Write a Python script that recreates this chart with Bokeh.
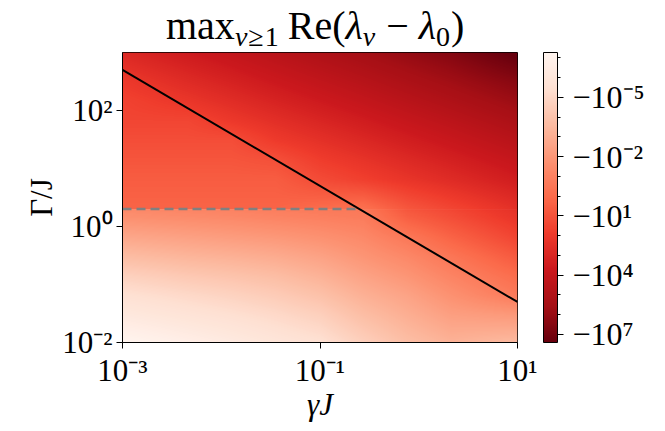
import numpy as np
from bokeh.plotting import figure
from bokeh.models import (LinearColorMapper, ColorBar, FixedTicker, AllLabels,
                          CustomJSTickFormatter, Range1d, Div)
from bokeh.layouts import column
from bokeh.embed import file_html
from bokeh.resources import INLINE

# ---------------- data ----------------
gamma_lim = [1e-3, 1e1]          # x: gamma J
Gamma_lim = [1e-2, 1e3]          # y: Gamma / J
Gamma_split = 2.0                # dashed line level

# log10 |max Re(lambda_nu - lambda_0)|, upper block (Gamma 2 .. 1e3)
# rows: top -> bottom, columns: gamma 1e-3 -> 1e1 (log-uniform cells)
logmag_upper = [
    [2.84, 3.34, 3.82, 4.32, 4.80, 5.28, 5.78, 6.26, 6.90],
    [2.25, 2.75, 3.23, 3.73, 4.21, 4.69, 5.19, 5.67, 6.17],
    [1.80, 2.17, 2.65, 3.15, 3.63, 4.11, 4.61, 5.09, 5.59],
    [1.50, 1.50, 2.05, 2.55, 3.03, 3.51, 4.01, 4.49, 4.99],
    [1.20, 1.20, 1.20, 1.96, 2.44, 2.92, 3.42, 3.90, 4.40],
    [0.90, 0.90, 0.90, 1.10, 1.84, 2.32, 2.82, 3.30, 3.80],
    [0.60, 0.60, 0.60, 0.60, 1.27, 1.75, 2.25, 2.73, 3.23],
    [0.40, 0.40, 0.40, 0.40, 0.40, 0.40, 1.30, 1.90, 2.50],
]
# lower block (Gamma 1e-2 .. 2)
logmag_lower = [
    [-1.70, -1.55, -1.40, -1.20, -1.00, -0.80, 0.40, 1.10, 1.80],
    [-2.65, -2.45, -2.25, -2.05, -1.75, -1.35, -0.60, 0.30, 1.10],
    [-3.60, -3.35, -3.15, -2.90, -2.50, -1.90, -1.30, -0.50, 0.30],
    [-4.55, -4.25, -4.00, -3.70, -3.20, -2.50, -1.90, -1.10, -0.40],
    [-5.35, -5.05, -4.75, -4.40, -3.90, -3.10, -2.50, -1.70, -1.00],
    [-6.00, -5.70, -5.40, -5.05, -4.60, -3.70, -3.00, -2.30, -2.10],
    [-6.70, -6.35, -6.00, -5.60, -5.20, -4.30, -3.50, -2.90, -3.00],
]

line_gamma = [1e-3, 1e1]
line_Gamma = [500.0, 0.05]
dash_gamma = [1e-3, 0.25]
dash_Gamma = [2.0, 2.0]

x_ticks = [1e-3, 1e-1, 1e1]
x_labels = ["10\u207b\u00b3", "10\u207b\u00b9", "10\u00b9"]
y_ticks = [1e-2, 1e0, 1e2]
y_labels = ["10\u207b\u00b2", "10\u2070", "10\u00b2"]

cbar_exponents = [-5, -2, 1, 4, 7]            # ticks at -10^e
cbar_labels = ["\u221210\u207b\u2075", "\u221210\u207b\u00b2", "\u221210\u00b9",
               "\u221210\u2074", "\u221210\u2077"]
cbar_minor_exponents = list(range(-7, 8))
cbar_exp_min, cbar_exp_max = -7.27, 7.41       # colour range of log10|value|

# ---------------- styling ----------------
FONT = "Liberation Serif"
reds9 = ["#67000d", "#a50f15", "#cb181d", "#ef3b2c", "#fb6a4a",
         "#fc9272", "#fcbba1", "#fee0d2", "#fff5f0"]          # dark -> light


def interp_palette(cols, n):
    rgb = np.array([[int(c[i:i + 2], 16) for i in (1, 3, 5)] for c in cols], float)
    t = np.linspace(0, 1, len(cols))
    tt = np.linspace(0, 1, n)
    out = np.stack([np.interp(tt, t, rgb[:, k]) for k in range(3)], 1)
    return ["#%02x%02x%02x" % tuple(int(round(v)) for v in row) for row in out]


def _lin(q, fp):
    xp = np.arange(len(fp))
    y = np.interp(q, xp, fp)
    lo, hi = q < 0, q > xp[-1]
    y[lo] = fp[0] + q[lo] * (fp[1] - fp[0])
    y[hi] = fp[-1] + (q[hi] - xp[-1]) * (fp[-1] - fp[-2])
    return y


def display_resample(block, nx, ny):
    """Bilinear display resampling of a cell grid (edge half-cells continued)."""
    a = np.array(block, float)
    r, c = a.shape
    xs = (np.arange(nx) + 0.5) / nx * c - 0.5
    ys = (np.arange(ny) + 0.5) / ny * r - 0.5
    tmp = np.array([_lin(xs, row) for row in a])
    return np.array([_lin(ys, tmp[:, j]) for j in range(nx)]).T


palette = interp_palette(reds9, 256)
# mapped quantity: -log10|value|  (dark = most negative value)
mapper = LinearColorMapper(palette=palette, low=-cbar_exp_max, high=-cbar_exp_min)

FW, FH = 395, 290
p = figure(x_axis_type="log", y_axis_type="log",
           x_range=Range1d(*gamma_lim), y_range=Range1d(*Gamma_lim),
           frame_width=FW, frame_height=FH,
           min_border_left=122, min_border_top=2, min_border_bottom=89,
           min_border_right=5,
           output_backend="svg", toolbar_location=None)
p.background_fill_color = "white"
p.border_fill_alpha = 0
p.outline_line_color = "black"
p.outline_line_width = 1
p.grid.visible = False

dec_total = np.log10(Gamma_lim[1] / Gamma_lim[0])
ny_up = int(round(FH * np.log10(Gamma_lim[1] / Gamma_split) / dec_total))
ny_lo = int(round(FH * np.log10(Gamma_split / Gamma_lim[0]) / dec_total))
up = np.flipud(-display_resample(logmag_upper, FW, ny_up))
lo = np.flipud(-display_resample(logmag_lower, FW, ny_lo))
p.image(image=[up], x=gamma_lim[0], y=Gamma_split, dw=gamma_lim[1] - gamma_lim[0],
        dh=Gamma_lim[1] - Gamma_split, color_mapper=mapper)
p.image(image=[lo], x=gamma_lim[0], y=Gamma_lim[0], dw=gamma_lim[1] - gamma_lim[0],
        dh=Gamma_split - Gamma_lim[0], color_mapper=mapper)

p.line(line_gamma, line_Gamma, line_color="black", line_width=2)
p.line(dash_gamma, dash_Gamma, line_color="#808080", line_width=2.6, line_dash="9 5")

log_code = """
const i = tvals.findIndex(t => Math.abs(Math.log10(t) - Math.log10(tick)) < 1e-6);
return i < 0 ? "" : tlabels[i];
"""
p.xaxis.ticker = FixedTicker(ticks=x_ticks, minor_ticks=[])
p.yaxis.ticker = FixedTicker(ticks=y_ticks, minor_ticks=[])
p.xaxis.formatter = CustomJSTickFormatter(args=dict(tvals=x_ticks, tlabels=x_labels), code=log_code)
p.yaxis.formatter = CustomJSTickFormatter(args=dict(tvals=y_ticks, tlabels=y_labels), code=log_code)

for ax in (p.xaxis[0], p.yaxis[0]):
    ax.major_label_text_font = FONT
    ax.major_label_text_font_size = "31px"
    ax.major_label_text_color = "black"
    ax.axis_line_color = "black"
    ax.major_tick_line_color = "black"
    ax.major_tick_out = 6
    ax.major_tick_in = 0
    ax.minor_tick_line_color = None
    ax.axis_label_text_font = FONT
    ax.axis_label_text_font_size = "31px"
    ax.axis_label_text_color = "black"
    ax.major_label_standoff = 4
    ax.major_label_policy = AllLabels()

p.xaxis.axis_label = "\u03b3J"
p.xaxis.axis_label_text_font_style = "italic"
p.xaxis.axis_label_standoff = -4
p.yaxis.axis_label = "\u0393/J"
p.yaxis.axis_label_text_font_style = "normal"
p.yaxis.axis_label_standoff = 0
p.yaxis.major_label_orientation = "horizontal"

cbar_code = """
const i = tvals.findIndex(t => Math.abs(t - tick) < 1e-6);
return i < 0 ? "" : tlabels[i];
"""
cb_ticks = [-e for e in cbar_exponents]
cb = ColorBar(color_mapper=mapper,
              ticker=FixedTicker(ticks=cb_ticks, minor_ticks=[-e for e in cbar_minor_exponents]),
              formatter=CustomJSTickFormatter(args=dict(tvals=cb_ticks, tlabels=cbar_labels), code=cbar_code),
              major_label_policy=AllLabels(),
              width=14, height=FH, padding=0, location=(26, 0),
              label_standoff=9,
              major_tick_out=6, major_tick_in=0, minor_tick_out=3, minor_tick_in=0,
              major_tick_line_color="black", minor_tick_line_color="black",
              bar_line_color="black", bar_line_width=1,
              border_line_color=None, background_fill_color=None,
              major_label_text_font=FONT, major_label_text_font_size="32px",
              major_label_text_color="black")
p.add_layout(cb, "right")

# ---------------- title ----------------
sub = '<sub style="font-size:28px;vertical-align:-7px;line-height:0;letter-spacing:1px">'
title_html = ("max" + sub + "<i>\u03bd</i>\u22651</sub>&#8201;Re(<i>\u03bb</i>" + sub +
              "<i>\u03bd</i></sub> \u2212 <i>\u03bb</i>" + sub + "0</sub>)")
title = Div(text=title_html, width=665, height=50, margin=0,
            styles={"font-family": FONT, "font-size": "40px", "line-height": "44px",
                    "text-align": "left", "color": "black", "padding-top": "4px",
                    "padding-left": "166px", "box-sizing": "border-box",
                    "overflow": "visible", "white-space": "nowrap"})

layout = column(title, p, spacing=0)
open("out.html", "w").write(file_html(layout, INLINE))
